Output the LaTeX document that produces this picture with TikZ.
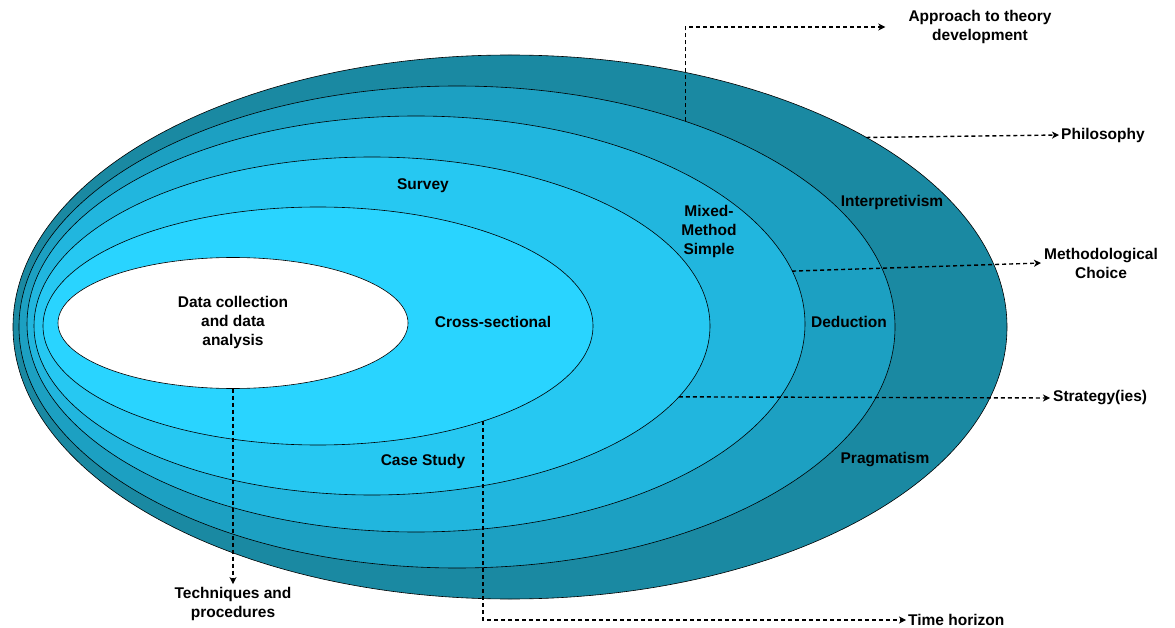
\documentclass[tikz,border=0pt]{standalone}
\usepackage{fontspec}
\setmainfont{Liberation Sans}
\usetikzlibrary{shapes.geometric,arrows.meta}

\definecolor{ringA}{RGB}{26,137,162}
\definecolor{ringB}{RGB}{28,160,194}
\definecolor{ringC}{RGB}{33,182,222}
\definecolor{ringD}{RGB}{38,200,242}
\definecolor{ringE}{RGB}{41,212,255}

\begin{document}
\begin{tikzpicture}[
	x=1pt, y=-1pt,
	ring/.style={
		ellipse, draw=black, line width=0.6pt,
		inner sep=0pt, outer sep=0pt
	},
	lbl/.style={
		font=\fontsize{15.5}{19}\selectfont\bfseries,
		align=center, inner sep=3pt
	},
	conn/.style={
		dashed, dash pattern=on 4pt off 3pt, line width=1.4pt,
		-{Stealth[length=7pt,width=7pt,inset=2pt]}
	},
	]
	\useasboundingbox (0,0) rectangle (1175,628);
	
	% onion layers, outside in
	\node[ring, fill=ringA, minimum width=994pt, minimum height=544pt] (ph) at (510,327) {};
	\node[ring, fill=ringB, minimum width=876pt, minimum height=482pt] (ap) at (457,327) {};
	\node[ring, fill=ringC, minimum width=778pt, minimum height=416pt] (mc) at (416,324) {};
	\node[ring, fill=ringD, minimum width=676pt, minimum height=338pt] (st) at (372,326) {};
	\node[ring, fill=ringE, minimum width=550pt, minimum height=238pt] (th) at (318,326) {};
	\node[ring, fill=white, minimum width=350pt, minimum height=131pt] (tp) at (233,323) {};
	
	% texts inside the layers
	\node[lbl] (data)  at (233,322) {Data collection\\and data\\analysis};
	\node[lbl] (cross) at (493,322) {Cross-sectional};
	\node[lbl] (surv)  at (423,186) {Survey};
	\node[lbl] (case)  at (423,461) {Case Study};
	\node[lbl] (mixed) at (709,231) {Mixed-\\Method\\Simple};
	\node[lbl] (ded)   at (849,322) {Deduction};
	\node[lbl] (interp) at (892,202) {Interpretivism};
	\node[lbl] (prag)  at (885,460) {Pragmatism};
	
	% outside labels
	\node[lbl] (apL) at (980,27) {Approach to theory\\development};
	\node[lbl, anchor=west, inner sep=2pt] (phL) at (1059,135) {Philosophy};
	\node[lbl, anchor=west] (mcL) at (1041,263) {Methodological\\Choice};
	\node[lbl, anchor=west] (stL) at (1050,398) {Strategy(ies)};
	\node[lbl, anchor=west, inner sep=2pt] (thL) at (906,620) {Time horizon};
	\node[lbl] (tpL) at (233,604) {Techniques and\\procedures};
	
	\draw[conn] (ap.42.6) |- ([xshift=-20pt]apL.west);
	\draw[conn] (ph.28.6) -- (phL.west);
	\draw[conn] (mc.8.07) -- (mcL.west);
	\draw[conn] (st.-13.2) -- (stL.west);
	\draw[conn] (th.-30.7) |- (thL.west);
	\draw[conn] (tp.south) -- (tpL.north);
	
\end{tikzpicture}
\end{document}
